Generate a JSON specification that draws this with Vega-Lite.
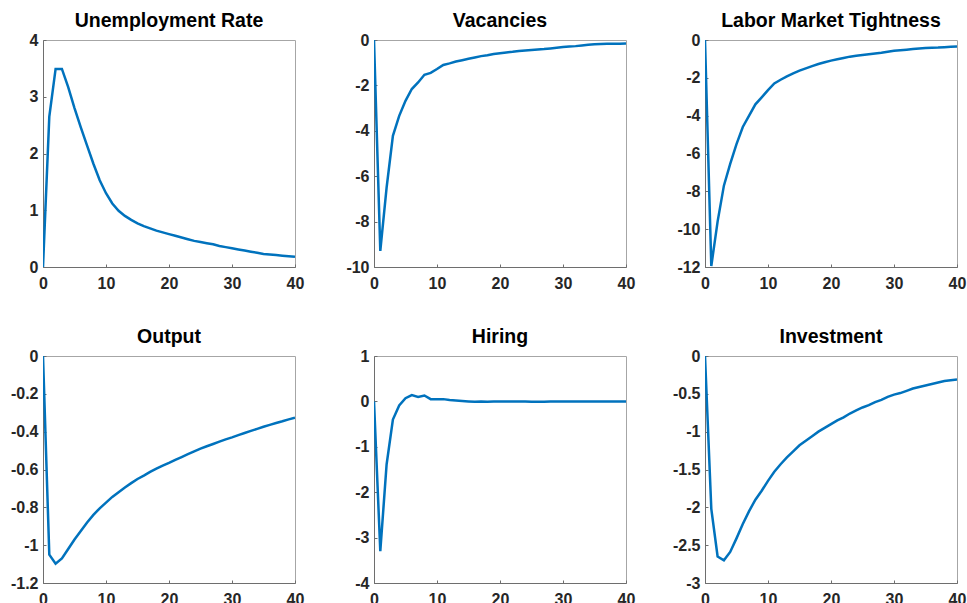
{
  "$schema": "https://vega.github.io/schema/vega-lite/v6.json",
  "background": "white",
  "padding": {"left": 9, "top": 10, "right": 0, "bottom": 0},
  "config": {
    "font": "Liberation Sans",
    "view": {"stroke": "#a6a6a6", "strokeWidth": 1},
    "axis": {
      "grid": false,
      "domainColor": "#6e6e6e",
      "domainWidth": 1,
      "tickColor": "#6e6e6e",
      "tickSize": -3,
      "labelFont": "Liberation Sans",
      "labelFontSize": 16,
      "labelFontWeight": "bold",
      "labelColor": "#262626",
      "titleFontSize": 0,
      "title": null
    },
    "axisX": {"labelPadding": 11, "labelFlush": false, "labelOverlap": false},
    "axisY": {"labelPadding": 8, "labelOverlap": false},
    "title": {
      "font": "Liberation Sans",
      "fontSize": 19.5,
      "fontWeight": "bold",
      "color": "#000000",
      "baseline": "alphabetic",
      "offset": 1,
      "anchor": "middle"
    },
    "line": {"color": "#0072BD", "strokeWidth": 2.5}
  },
  "data": {
    "values": [
      {"t":0,"u":0,"v":0,"l":0,"o":0,"h":0,"i":0},
      {"t":1,"u":2.65,"v":-9.29,"l":-11.95,"o":-1.05,"h":-3.3,"i":-2.02},
      {"t":2,"u":3.49,"v":-6.5,"l":-9.6,"o":-1.098,"h":-1.39,"i":-2.65},
      {"t":3,"u":3.49,"v":-4.22,"l":-7.7,"o":-1.07,"h":-0.4,"i":-2.7},
      {"t":4,"u":3.17,"v":-3.34,"l":-6.55,"o":-1.02,"h":-0.09,"i":-2.59},
      {"t":5,"u":2.8,"v":-2.68,"l":-5.5,"o":-0.97,"h":0.07,"i":-2.41},
      {"t":6,"u":2.46,"v":-2.16,"l":-4.6,"o":-0.925,"h":0.14,"i":-2.22},
      {"t":7,"u":2.14,"v":-1.87,"l":-4.0,"o":-0.88,"h":0.1,"i":-2.05},
      {"t":8,"u":1.82,"v":-1.53,"l":-3.4,"o":-0.84,"h":0.13,"i":-1.9},
      {"t":9,"u":1.53,"v":-1.45,"l":-3.03,"o":-0.805,"h":0.05,"i":-1.78},
      {"t":10,"u":1.3,"v":-1.28,"l":-2.65,"o":-0.775,"h":0.05,"i":-1.65},
      {"t":11,"u":1.12,"v":-1.1,"l":-2.3,"o":-0.745,"h":0.05,"i":-1.53},
      {"t":12,"u":0.99,"v":-1.03,"l":-2.1,"o":-0.72,"h":0.03,"i":-1.43},
      {"t":13,"u":0.9,"v":-0.95,"l":-1.92,"o":-0.695,"h":0.02,"i":-1.34},
      {"t":14,"u":0.83,"v":-0.89,"l":-1.76,"o":-0.672,"h":0.01,"i":-1.26},
      {"t":15,"u":0.77,"v":-0.83,"l":-1.62,"o":-0.65,"h":0.0,"i":-1.18},
      {"t":16,"u":0.72,"v":-0.77,"l":-1.5,"o":-0.632,"h":-0.01,"i":-1.12},
      {"t":17,"u":0.68,"v":-0.71,"l":-1.38,"o":-0.613,"h":0.0,"i":-1.06},
      {"t":18,"u":0.64,"v":-0.67,"l":-1.27,"o":-0.596,"h":-0.01,"i":-1.0},
      {"t":19,"u":0.61,"v":-0.62,"l":-1.18,"o":-0.58,"h":0.0,"i":-0.95},
      {"t":20,"u":0.58,"v":-0.58,"l":-1.09,"o":-0.565,"h":0.0,"i":-0.9},
      {"t":21,"u":0.55,"v":-0.55,"l":-1.02,"o":-0.549,"h":0.0,"i":-0.85},
      {"t":22,"u":0.52,"v":-0.52,"l":-0.95,"o":-0.534,"h":0.0,"i":-0.81},
      {"t":23,"u":0.49,"v":-0.48,"l":-0.88,"o":-0.519,"h":0.0,"i":-0.76},
      {"t":24,"u":0.46,"v":-0.46,"l":-0.83,"o":-0.504,"h":0.0,"i":-0.72},
      {"t":25,"u":0.44,"v":-0.44,"l":-0.79,"o":-0.49,"h":-0.01,"i":-0.68},
      {"t":26,"u":0.42,"v":-0.42,"l":-0.75,"o":-0.477,"h":-0.01,"i":-0.65},
      {"t":27,"u":0.4,"v":-0.4,"l":-0.71,"o":-0.465,"h":-0.01,"i":-0.61},
      {"t":28,"u":0.37,"v":-0.37,"l":-0.67,"o":-0.453,"h":0.0,"i":-0.58},
      {"t":29,"u":0.35,"v":-0.34,"l":-0.62,"o":-0.441,"h":0.0,"i":-0.54},
      {"t":30,"u":0.33,"v":-0.31,"l":-0.57,"o":-0.43,"h":0.0,"i":-0.51},
      {"t":31,"u":0.31,"v":-0.29,"l":-0.54,"o":-0.418,"h":0.0,"i":-0.49},
      {"t":32,"u":0.29,"v":-0.27,"l":-0.51,"o":-0.407,"h":0.0,"i":-0.46},
      {"t":33,"u":0.27,"v":-0.24,"l":-0.48,"o":-0.396,"h":0.0,"i":-0.43},
      {"t":34,"u":0.25,"v":-0.21,"l":-0.45,"o":-0.385,"h":0.0,"i":-0.41},
      {"t":35,"u":0.23,"v":-0.19,"l":-0.42,"o":-0.374,"h":0.0,"i":-0.39},
      {"t":36,"u":0.22,"v":-0.18,"l":-0.41,"o":-0.364,"h":0.0,"i":-0.37},
      {"t":37,"u":0.21,"v":-0.17,"l":-0.4,"o":-0.354,"h":0.0,"i":-0.35},
      {"t":38,"u":0.2,"v":-0.17,"l":-0.38,"o":-0.345,"h":0.0,"i":-0.33},
      {"t":39,"u":0.19,"v":-0.16,"l":-0.36,"o":-0.335,"h":0.0,"i":-0.32},
      {"t":40,"u":0.18,"v":-0.15,"l":-0.35,"o":-0.326,"h":0.0,"i":-0.31}
    ]
  },
  "columns": 3,
  "spacing": {"row": 89, "column": 79},
  "bounds": "flush",
  "resolve": {"scale": {"y": "independent"}},
  "concat": [
    {
      "title": "Unemployment Rate",
      "width": 252, "height": 227,
      "mark": {"type": "line", "clip": true},
      "encoding": {
        "x": {"field": "t", "type": "quantitative", "scale": {"domain": [0, 40], "nice": false}, "axis": {"values": [0,10,20,30,40]}},
        "y": {"field": "u", "type": "quantitative", "scale": {"domain": [0, 4], "nice": false}, "axis": {"values": [0,1,2,3,4], "labelExpr": "toString(datum.value)"}}
      }
    },
    {
      "title": "Vacancies",
      "width": 252, "height": 227,
      "mark": {"type": "line", "clip": true},
      "encoding": {
        "x": {"field": "t", "type": "quantitative", "scale": {"domain": [0, 40], "nice": false}, "axis": {"values": [0,10,20,30,40]}},
        "y": {"field": "v", "type": "quantitative", "scale": {"domain": [-10, 0], "nice": false}, "axis": {"values": [-10,-8,-6,-4,-2,0], "labelExpr": "toString(datum.value)"}}
      }
    },
    {
      "title": "Labor Market Tightness",
      "width": 252, "height": 227,
      "mark": {"type": "line", "clip": true},
      "encoding": {
        "x": {"field": "t", "type": "quantitative", "scale": {"domain": [0, 40], "nice": false}, "axis": {"values": [0,10,20,30,40]}},
        "y": {"field": "l", "type": "quantitative", "scale": {"domain": [-12, 0], "nice": false}, "axis": {"values": [-12,-10,-8,-6,-4,-2,0], "labelExpr": "toString(datum.value)"}}
      }
    },
    {
      "title": "Output",
      "width": 252, "height": 227,
      "mark": {"type": "line", "clip": true},
      "encoding": {
        "x": {"field": "t", "type": "quantitative", "scale": {"domain": [0, 40], "nice": false}, "axis": {"values": [0,10,20,30,40]}},
        "y": {"field": "o", "type": "quantitative", "scale": {"domain": [-1.2, 0], "nice": false}, "axis": {"values": [-1.2,-1,-0.8,-0.6,-0.4,-0.2,0], "labelExpr": "toString(datum.value)"}}
      }
    },
    {
      "title": "Hiring",
      "width": 252, "height": 227,
      "mark": {"type": "line", "clip": true},
      "encoding": {
        "x": {"field": "t", "type": "quantitative", "scale": {"domain": [0, 40], "nice": false}, "axis": {"values": [0,10,20,30,40]}},
        "y": {"field": "h", "type": "quantitative", "scale": {"domain": [-4, 1], "nice": false}, "axis": {"values": [-4,-3,-2,-1,0,1], "labelExpr": "toString(datum.value)"}}
      }
    },
    {
      "title": "Investment",
      "width": 252, "height": 227,
      "mark": {"type": "line", "clip": true},
      "encoding": {
        "x": {"field": "t", "type": "quantitative", "scale": {"domain": [0, 40], "nice": false}, "axis": {"values": [0,10,20,30,40]}},
        "y": {"field": "i", "type": "quantitative", "scale": {"domain": [-3, 0], "nice": false}, "axis": {"values": [-3,-2.5,-2,-1.5,-1,-0.5,0], "labelExpr": "toString(datum.value)"}}
      }
    }
  ]
}
